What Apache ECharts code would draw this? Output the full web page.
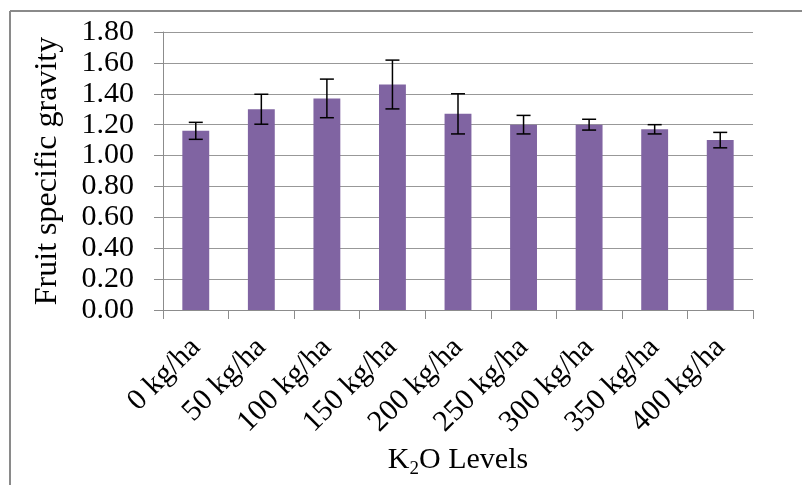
<!DOCTYPE html>
<html>
<head>
<meta charset="utf-8">
<script src="https://cdn.jsdelivr.net/npm/echarts@6/dist/echarts.min.js"></script>
<style>
html,body{margin:0;padding:0;background:#fff;}
#chart{width:802px;height:485px;}
</style>
</head>
<body>
<div id="chart"></div>
<script>
const categories = ['0 kg/ha','50 kg/ha','100 kg/ha','150 kg/ha','200 kg/ha','250 kg/ha','300 kg/ha','350 kg/ha','400 kg/ha'];
const values = [1.16, 1.30, 1.37, 1.46, 1.27, 1.20, 1.20, 1.17, 1.10];
const errors = [0.055, 0.097, 0.125, 0.158, 0.13, 0.06, 0.035, 0.03, 0.05];
const yTicks = {min: 0, max: 1.8, interval: 0.2};

const FONT = '"Liberation Serif", "Times New Roman", serif';
const chart = echarts.init(document.getElementById('chart'), null, {renderer: 'canvas'});

const errData = values.map((v, i) => [i, v - errors[i], v + errors[i]]);

chart.setOption({
  animation: false,
  backgroundColor: '#fff',
  grid: {left: 163, right: 49, top: 32, bottom: 175, containLabel: false},
  graphic: [
    {type: 'line', shape: {x1: 10, y1: 11, x2: 802, y2: 11}, style: {stroke: '#8a8a8a', lineWidth: 2}},
    {type: 'line', shape: {x1: 10, y1: 11, x2: 10, y2: 485}, style: {stroke: '#8a8a8a', lineWidth: 2}}
  ],
  xAxis: {
    type: 'category',
    data: categories,
    axisLine: {lineStyle: {color: '#8c8c8c', width: 1}},
    axisTick: {show: true, length: 9, lineStyle: {color: '#8c8c8c'}},
    axisLabel: {rotate: 45, margin: 33, color: '#000', fontFamily: FONT, fontSize: 30},
    name: 'K{sub|2}O Levels',
    nameLocation: 'middle',
    nameGap: 127,
    nameTextStyle: {
      color: '#000', fontFamily: FONT, fontSize: 30,
      rich: {sub: {fontSize: 19, fontFamily: FONT, color: '#000', padding: [18, 0, 0, 0]}}
    }
  },
  yAxis: {
    type: 'value',
    min: yTicks.min, max: yTicks.max, interval: yTicks.interval,
    axisLine: {show: true, lineStyle: {color: '#8c8c8c', width: 1}},
    axisTick: {show: true, length: 9, lineStyle: {color: '#8c8c8c'}},
    splitLine: {show: true, lineStyle: {color: '#989898', width: 1}},
    axisLabel: {margin: 29, color: '#000', fontFamily: FONT, fontSize: 30, formatter: v => v.toFixed(2)},
    name: 'Fruit specific gravity',
    nameLocation: 'middle',
    nameRotate: 90,
    nameGap: 99,
    nameTextStyle: {color: '#000', fontFamily: FONT, fontSize: 32}
  },
  series: [
    {
      type: 'bar',
      data: values,
      barWidth: '41%',
      itemStyle: {color: '#8064A2'}
    },
    {
      type: 'custom',
      data: errData,
      z: 10,
      renderItem: function (params, api) {
        const i = api.value(0);
        const lo = api.coord([i, api.value(1)]);
        const hi = api.coord([i, api.value(2)]);
        const hw = 7;
        const st = {stroke: '#000', lineWidth: 1.5};
        return {
          type: 'group',
          children: [
            {type: 'line', shape: {x1: lo[0], y1: lo[1], x2: hi[0], y2: hi[1]}, style: st},
            {type: 'line', shape: {x1: hi[0] - hw, y1: hi[1], x2: hi[0] + hw, y2: hi[1]}, style: st},
            {type: 'line', shape: {x1: lo[0] - hw, y1: lo[1], x2: lo[0] + hw, y2: lo[1]}, style: st}
          ]
        };
      }
    }
  ]
});
</script>
</body>
</html>
